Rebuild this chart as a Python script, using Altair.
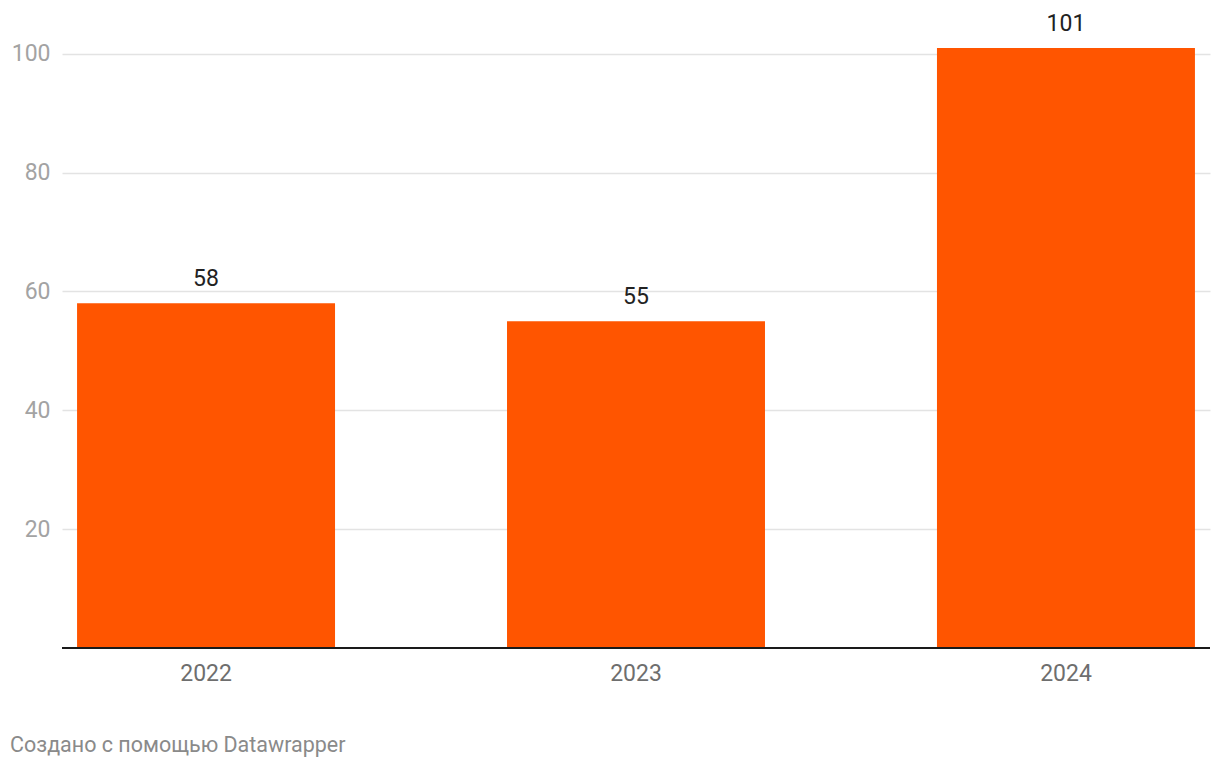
import altair as alt
import pandas as pd

years = ["2022", "2023", "2024"]
values = [58, 55, 101]
y_ticks = [20, 40, 60, 80, 100]
footer = "Создано с помощью Datawrapper"

df = pd.DataFrame({"year": years, "value": values})

FONT = "Roboto"
PX = 5.94
Y_MAX = 102
H = Y_MAX * PX

base = alt.Chart(df)

x_enc = alt.X(
    "year:N",
    sort=years,
    title=None,
    scale=alt.Scale(paddingInner=0.4, paddingOuter=0.035),
    axis=alt.Axis(
        labelAngle=0, labelFont=FONT, labelFontSize=23, labelColor="#6e6e6e",
        labelPadding=15, ticks=False, domain=False, grid=False,
        labelBaseline="top",
    ),
)
y_enc = alt.Y(
    "value:Q",
    title=None,
    scale=alt.Scale(domain=[0, Y_MAX], nice=False),
    axis=alt.Axis(
        values=y_ticks, labelFont=FONT, labelFontSize=23, labelColor="#a3a3a3",
        labelPadding=12, ticks=False, domain=False, grid=True,
        gridColor="#e3e3e3", gridWidth=1.5,
    ),
)

bars = base.mark_bar(color="#ff5500").encode(x=x_enc, y=y_enc)

labels = base.mark_text(
    font=FONT, fontSize=23, color="#222222", baseline="middle", dy=-24
).encode(x=alt.X("year:N", sort=years), y=alt.Y("value:Q"), text="value:Q")

zero = alt.Chart(pd.DataFrame({"z": [0]})).mark_rule(
    color="#1a1a1a", strokeWidth=2
).encode(y="z:Q", x=alt.value(0), x2=alt.value(1148))

foot = alt.Chart(pd.DataFrame({"t": [footer]})).mark_text(
    font=FONT, fontSize=21.5, color="#8a8a8a", align="left", baseline="middle"
).encode(text="t:N", x=alt.value(-52), y=alt.value(746 - 42))

chart = alt.layer(bars, labels, zero, foot).properties(
    width=1148,
    height=H,
    padding={"left": 62, "top": 42, "right": 10, "bottom": 122},
    autosize=alt.AutoSizeParams(type="none"),
).configure_view(stroke=None)

chart.save("out.html", embed_options={"renderer": "svg", "actions": False})
